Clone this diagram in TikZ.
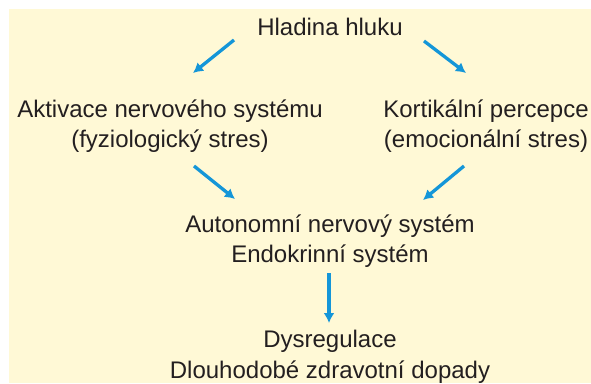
\documentclass[tikz,border=0pt]{standalone}
\usepackage{fontspec}
\setmainfont{Liberation Sans}
\usepackage{xcolor}
\usetikzlibrary{arrows.meta,positioning}
\definecolor{bgyellow}{HTML}{FFF9D6}
\definecolor{arrowblue}{HTML}{1496D8}
\definecolor{textgray}{HTML}{231F20}

\begin{document}
\begin{tikzpicture}[node distance=117pt, auto]
    \tikzstyle{stage} = [text=textgray, align=center, inner sep=0pt, font=\fontsize{24}{30.5}\selectfont]
    \tikzstyle{arrow} = [line width=3.3pt, arrowblue, -{Latex[length=10pt,width=11pt]}]

    % Background
    \useasboundingbox (0,0) rectangle (591pt,-383pt);
    \fill [bgyellow] (9pt,-9pt) rectangle (591pt,-383pt);

    % Noise level
    \node [stage] (hladina) at (330pt,-27pt) {Hladina hluku};

    % Physiological stress
    \node [stage, below of=hladina, xshift=-160pt, yshift=18pt] (aktivace) {Aktivace nervového systému\\(fyziologický stres)};

    % Emotional stress
    \node [stage, below of=hladina, xshift=156pt, yshift=18pt] (kortikal) {Kortikální percepce\\(emocionální stres)};

    % Autonomic and endocrine systems
    \node [stage, below of=hladina, yshift=-97pt] (autonomni) {Autonomní nervový systém\\Endokrinní systém};

    % Long-term effects
    \node [stage, below of=autonomni, yshift=1pt] (dysregulace) {Dysregulace\\Dlouhodobé zdravotní dopady};

    % Arrows
    \draw [arrow] ([shift={(-96pt,-13pt)}]hladina.center) -- ([shift={(23pt,53pt)}]aktivace.center);
    \draw [arrow] ([shift={(94pt,-14pt)}]hladina.center) -- ([shift={(-20pt,53pt)}]kortikal.center);
    \draw [arrow] ([shift={(24pt,-40pt)}]aktivace.center) -- ([shift={(-95pt,42pt)}]autonomni.center);
    \draw [arrow] ([shift={(-22pt,-40pt)}]kortikal.center) -- ([shift={(93pt,41pt)}]autonomni.center);
    \draw [arrow] ([shift={(-1pt,-32pt)}]autonomni.center) -- ([shift={(-1pt,34pt)}]dysregulace.center);
\end{tikzpicture}
\end{document}
